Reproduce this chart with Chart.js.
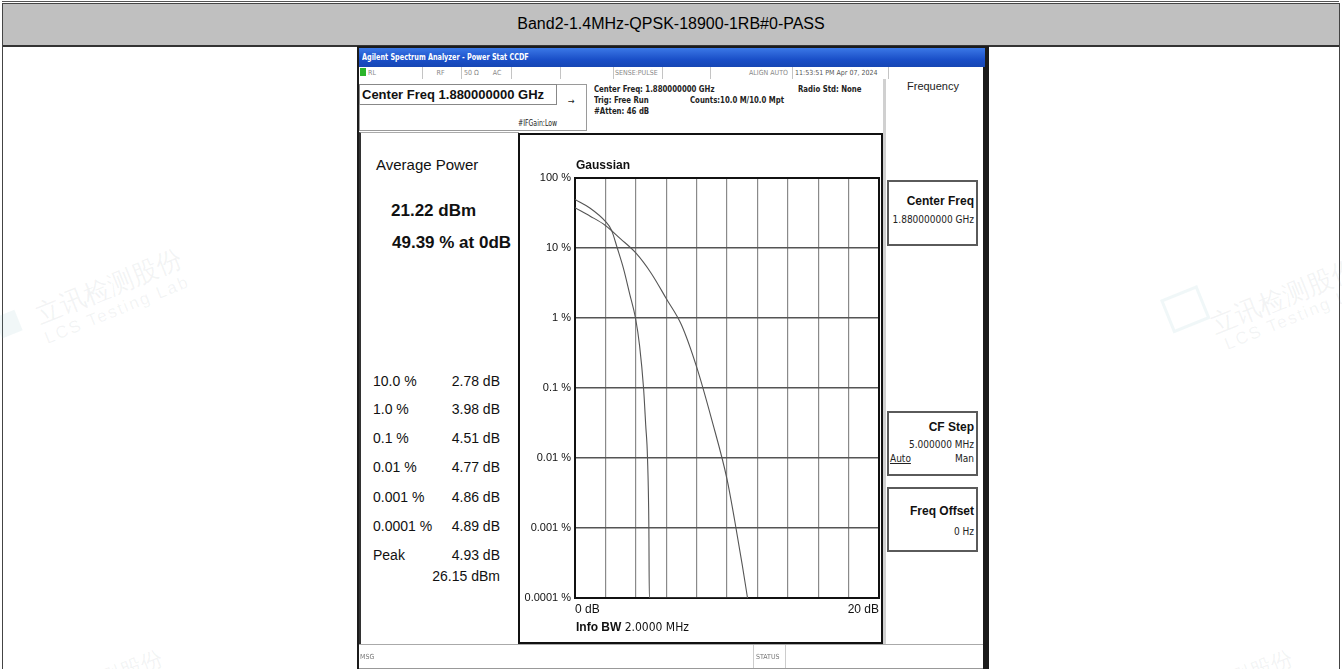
<!DOCTYPE html>
<html>
<head>
<meta charset="utf-8">
<script src="https://cdn.jsdelivr.net/npm/chart.js@4.4.1/dist/chart.umd.min.js"></script>
<style>
  html, body { margin: 0; padding: 0; background: #fff; }
  body { width: 1342px; height: 669px; position: relative; overflow: hidden; font-family: Arial, "Liberation Sans", sans-serif; }
  .abs { position: absolute; }
  .narrow { font-family: "Liberation Sans Narrow", "DejaVu Sans Condensed", Arial, sans-serif; }
  .sq { transform: scaleX(0.86); transform-origin: 0 0; white-space: nowrap; }
  .wm { position: absolute; color: rgba(120,130,140,0.09); white-space: nowrap; transform-origin: 0 0; }
  .sk { position: absolute; left: 887px; width: 91px; border: 2px solid #5a5a5a; box-sizing: border-box; background: #fff; }
  .sk .t { position: absolute; right: 2px; font-weight: bold; font-size: 12px; color: #111; }
  .sk .v { position: absolute; right: 2px; font-size: 10px; color: #222; }
  .st { position: absolute; top: 67px; height: 12px; border-right: 1px solid #c4c4c4; font-size: 7px; color: #888; line-height: 12px; }
  .row { position: absolute; font-size: 14px; color: #111; }
</style>
</head>
<body>
<!-- table frame -->
<div class="abs" style="left:2px;top:1px;width:1337px;height:1px;background:#555"></div>
<div class="abs" style="left:2px;top:3px;width:1337px;height:41px;background:#c0c0c0;border-top:1px solid #444;border-bottom:2px solid #333"></div>
<div class="abs" style="left:2px;top:3px;width:1px;height:666px;background:#444"></div>
<div class="abs" style="left:1339px;top:3px;width:1px;height:666px;background:#444"></div>
<div class="abs" style="left:0;top:15px;width:1342px;text-align:center;font-size:16px;color:#000">Band2-1.4MHz-QPSK-18900-1RB#0-PASS</div>

<!-- watermarks -->
<div class="wm" style="left:30px;top:300px;transform:rotate(-22deg);font-size:26px">立讯检测股份</div>
<div class="wm" style="left:42px;top:330px;transform:rotate(-22deg);font-size:17px;letter-spacing:2px">LCS Testing Lab</div>
<div class="wm" style="left:-6px;top:318px;width:22px;height:22px;background:rgba(120,180,190,0.10);transform:rotate(-22deg)"></div>
<div class="wm" style="left:1205px;top:310px;transform:rotate(-22deg);font-size:26px">立讯检测股份</div>
<div class="wm" style="left:1222px;top:336px;transform:rotate(-22deg);font-size:17px;letter-spacing:2px">LCS Testing Lab</div>
<div class="wm" style="left:1160px;top:300px;width:34px;height:30px;border:3px solid rgba(120,180,190,0.11);transform:rotate(-22deg)"></div>
<div class="wm" style="left:95px;top:668px;transform:rotate(-22deg);font-size:22px">测股份</div>
<div class="wm" style="left:1225px;top:668px;transform:rotate(-22deg);font-size:22px">测股份</div>

<!-- analyzer screenshot -->
<div class="abs" style="left:357px;top:46px;width:632px;height:623px;background:#1b1b1b"></div>
<div class="abs" style="left:359px;top:48px;width:626px;height:19px;background:linear-gradient(#3b78e6,#1a4fc8 60%,#1646b4)"></div>
<div class="abs narrow" style="left:362px;top:52px;font-size:9px;font-weight:bold;color:#fff;transform:scaleX(0.8);transform-origin:0 0;white-space:nowrap">Agilent Spectrum Analyzer - Power Stat CCDF</div>
<div class="abs" style="left:359px;top:67px;width:624px;height:602px;background:#fff"></div>

<!-- status row -->
<div class="abs" style="left:360px;top:68px;width:6px;height:8px;background:#2bb52b"></div>
<div class="st narrow" style="left:366px;width:54px;padding-left:2px">RL</div>
<div class="st narrow" style="left:420px;width:41px;text-align:center">RF</div>
<div class="st narrow" style="left:461px;width:50px"><span style="margin-left:3px">50 Ω</span><span style="margin-left:14px">AC</span></div>
<div class="st" style="left:511px;width:49px"></div>
<div class="st" style="left:560px;width:53px"></div>
<div class="st narrow" style="left:613px;width:47px;padding-left:2px">SENSE:PULSE</div>
<div class="st" style="left:660px;width:50px"></div>
<div class="st narrow" style="left:710px;width:82px;text-align:right;padding-right:0">ALIGN AUTO&nbsp;&nbsp;</div>
<div class="st narrow" style="left:793px;width:93px;color:#555;padding-left:2px">11:53:51 PM Apr 07, 2024</div>

<!-- measurement header -->
<div class="abs" style="left:359px;top:84px;width:228px;height:47px;border:1px solid #9a9a9a;box-sizing:border-box"></div>
<div class="abs" style="left:359px;top:84px;width:198px;height:21px;border:1px solid #888;box-sizing:border-box"></div>
<div class="abs" style="left:362px;top:87px;font-size:13px;font-weight:bold;color:#111;white-space:nowrap">Center Freq 1.880000000 GHz</div>
<div class="abs narrow sq" style="left:594px;top:84px;font-size:9px;font-weight:bold;color:#222">Center Freq: 1.880000000 GHz</div>
<div class="abs narrow sq" style="left:798px;top:84px;font-size:9px;font-weight:bold;color:#222">Radio Std: None</div>
<div class="abs narrow sq" style="left:594px;top:95px;font-size:9px;font-weight:bold;color:#222">Trig: Free Run</div>
<div class="abs narrow sq" style="left:690px;top:95px;font-size:9px;font-weight:bold;color:#222">Counts:10.0 M/10.0 Mpt</div>
<div class="abs narrow" style="left:568px;top:96px;font-size:9px;color:#222">→</div>
<div class="abs narrow sq" style="left:594px;top:106px;font-size:9px;font-weight:bold;color:#222">#Atten: 46 dB</div>
<div class="abs narrow sq" style="left:518px;top:119px;font-size:8px;color:#222">#IFGain:Low</div>

<!-- left result panel -->
<div class="abs" style="left:359px;top:132px;width:160px;height:512px;border-left:2px solid #333;border-top:1px solid #aaa;box-sizing:border-box"></div>
<div class="abs" style="left:376px;top:156px;font-size:15px;color:#111">Average Power</div>
<div class="abs" style="left:391px;top:201px;font-size:17px;font-weight:bold;color:#111">21.22 dBm</div>
<div class="abs" style="left:392px;top:233px;font-size:17px;font-weight:bold;color:#111;white-space:nowrap">49.39 % at 0dB</div>

<div class="row" style="left:373px;top:373px">10.0 %</div>
<div class="row" style="left:373px;top:401px">1.0 %</div>
<div class="row" style="left:373px;top:430px">0.1 %</div>
<div class="row" style="left:373px;top:459px">0.01 %</div>
<div class="row" style="left:373px;top:489px">0.001 %</div>
<div class="row" style="left:373px;top:518px">0.0001 %</div>
<div class="row" style="left:373px;top:547px">Peak</div>
<div class="row" style="left:400px;width:100px;text-align:right;top:373px">2.78 dB</div>
<div class="row" style="left:400px;width:100px;text-align:right;top:401px">3.98 dB</div>
<div class="row" style="left:400px;width:100px;text-align:right;top:430px">4.51 dB</div>
<div class="row" style="left:400px;width:100px;text-align:right;top:459px">4.77 dB</div>
<div class="row" style="left:400px;width:100px;text-align:right;top:489px">4.86 dB</div>
<div class="row" style="left:400px;width:100px;text-align:right;top:518px">4.89 dB</div>
<div class="row" style="left:400px;width:100px;text-align:right;top:547px">4.93 dB</div>
<div class="row" style="left:400px;width:100px;text-align:right;top:568px">26.15 dBm</div>

<!-- chart frame -->
<div class="abs" id="wrap" style="left:517px;top:133px;width:366px;height:512px">
  <canvas id="ccdf"></canvas>
</div>
<div class="abs" style="left:518px;top:133px;width:365px;height:511px;border:2px solid #111;box-sizing:border-box;pointer-events:none"></div>
<div class="abs" style="left:576px;top:158px;font-size:12px;font-weight:bold;color:#111">Gaussian</div>
<div class="abs" style="left:576px;top:620px;font-size:12px;color:#111;white-space:nowrap"><b>Info BW</b> <span class="narrow">2.0000 MHz</span></div>

<!-- softkeys -->
<div class="abs" style="left:883px;top:79px;width:3px;height:565px;background:#d0d0d0"></div>
<div class="abs" style="left:886px;top:80px;width:94px;text-align:center;font-size:11px;color:#222">Frequency</div>
<div class="sk" style="top:180px;height:66px"><div class="t" style="top:12px">Center Freq</div><div class="v narrow" style="top:32px">1.880000000 GHz</div></div>
<div class="sk" style="top:411px;height:65px"><div class="t" style="top:7px">CF Step</div><div class="v narrow" style="top:26px">5.000000 MHz</div><div class="v narrow" style="top:40px;left:1px;right:auto;text-decoration:underline">Auto</div><div class="v narrow" style="top:40px">Man</div></div>
<div class="sk" style="top:487px;height:65px"><div class="t" style="top:15px">Freq Offset</div><div class="v narrow" style="top:37px">0 Hz</div></div>

<!-- bottom status bar -->
<div class="abs" style="left:359px;top:644px;width:624px;height:1px;background:#aaa"></div>
<div class="abs" style="left:359px;top:668px;width:624px;height:1px;background:#999"></div>
<div class="abs narrow" style="left:360px;top:653px;font-size:7px;color:#777">MSG</div>
<div class="abs" style="left:753px;top:645px;width:31px;height:23px;border-left:1px solid #ccc;border-right:1px solid #ccc"></div>
<div class="abs narrow" style="left:756px;top:653px;font-size:7px;color:#777">STATUS</div>

<script>
// x range in dB, y range in percent (log)
const xMin = 0
const xMax = 20
const yTicks = [100, 10, 1, 0.1, 0.01, 0.001, 0.0001]

// reference gaussian curve
const gaussDb = [0, 1, 2, 3, 4, 5, 6, 7, 8, 9, 10, 10.5, 11, 11.35]
const gaussPct = [37.7, 28.5, 21, 13.5, 8.5, 4.4, 1.9, 0.8, 0.2, 0.035, 0.005, 0.0013, 0.0003, 0.0001]

// measured CCDF curve (table values + points)
const measDb = [0, 1, 2, 2.4, 2.78, 3.2, 3.6, 3.98, 4.25, 4.51, 4.65, 4.77, 4.86, 4.89, 11.35]
const measPct = [49.39, 37, 24, 18, 10, 5, 2.2, 1.0, 0.4, 0.1, 0.03, 0.01, 0.001, 0.0001, 0.0001]

function toPoints(xs, ys) {
  return xs.map((x, i) => ({ x: x, y: ys[i] }))
}

const plotFrame = {
  id: 'plotFrame',
  beforeDatasetsDraw(chart) {
    const { ctx, chartArea: a } = chart
    ctx.save()
    ctx.strokeStyle = '#111'
    ctx.lineWidth = 2
    ctx.strokeRect(a.left, a.top, a.right - a.left, a.bottom - a.top)
    ctx.restore()
  }
}

function initChart() {
  const ctx = document.getElementById('ccdf')
  const lineStyle = {
    borderColor: '#555',
    borderWidth: 1.1,
    pointRadius: 0,
    fill: false,
    cubicInterpolationMode: 'monotone'
  }
  const config = {
    type: 'line',
    data: {
      datasets: [
        Object.assign({ label: 'Gaussian', data: toPoints(gaussDb, gaussPct) }, lineStyle),
        Object.assign({ label: 'Measured', data: toPoints(measDb, measPct) }, lineStyle)
      ]
    },
    options: {
      responsive: true,
      maintainAspectRatio: false,
      animation: false,
      layout: { padding: { top: 45, right: 3, left: 0, bottom: 0 } },
      plugins: { legend: { display: false }, tooltip: { enabled: false } },
      scales: {
        x: {
          type: 'linear',
          min: xMin,
          max: xMax,
          afterFit: (s) => { s.height = 47 },
          border: { display: false },
          grid: { color: '#8a8a8a', lineWidth: 1.2, drawTicks: false },
          ticks: {
            stepSize: 2,
            autoSkip: false,
            maxRotation: 0,
            align: 'inner',
            padding: 4,
            color: '#111',
            font: { family: 'Arial, "Liberation Sans"', size: 12 },
            callback: (v) => (v === xMin ? xMin + ' dB' : v === xMax ? xMax + ' dB' : '')
          }
        },
        y: {
          type: 'logarithmic',
          min: 0.0001,
          max: 100,
          afterFit: (s) => { s.width = 58 },
          afterBuildTicks: (s) => { s.ticks = yTicks.map((v) => ({ value: v })) },
          border: { display: false },
          grid: { color: '#555', lineWidth: 1.5, drawTicks: false },
          ticks: {
            padding: 4,
            color: '#111',
            font: { family: 'Arial, "Liberation Sans"', size: 11 },
            callback: (v) => v + ' %'
          }
        }
      }
    },
    plugins: [plotFrame]
  }
  // eslint-disable-next-line no-undef
  new Chart(ctx, config)
}

initChart()
</script>
</body>
</html>
